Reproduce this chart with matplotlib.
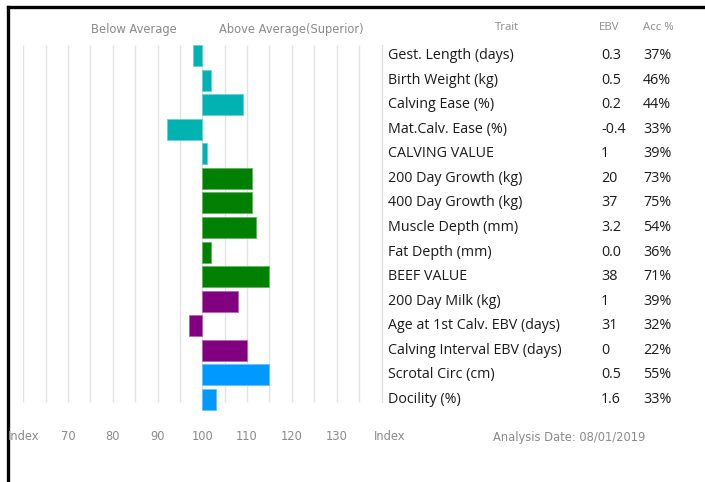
import matplotlib.pyplot as plt
from matplotlib.lines import Line2D

traits = ['Gest. Length (days)', 'Birth Weight (kg)', 'Calving Ease (%)',
          'Mat.Calv. Ease (%)', 'CALVING VALUE', '200 Day Growth (kg)',
          '400 Day Growth (kg)', 'Muscle Depth (mm)', 'Fat Depth (mm)',
          'BEEF VALUE', '200 Day Milk (kg)', 'Age at 1st Calv. EBV (days)',
          'Calving Interval EBV (days)', 'Scrotal Circ (cm)', 'Docility (%)']
ebv = ['0.3', '0.5', '0.2', '-0.4', '1', '20', '37', '3.2', '0.0', '38',
       '1', '31', '0', '0.5', '1.6']
acc = ['37%', '46%', '44%', '33%', '39%', '73%', '75%', '54%', '36%', '71%',
       '39%', '32%', '22%', '55%', '33%']
index = [98, 102, 109, 92, 101, 111, 111, 112, 102, 115, 108, 97, 110, 115, 103]
groups = ['calving'] * 5 + ['growth'] * 5 + ['maternal'] * 3 + ['other'] * 2
tick_vals = [60, 70, 80, 90, 100, 110, 120, 130, 141.8]
tick_labels = ['Index', '70', '80', '90', '100', '110', '120', '130', 'Index']

colors = {'calving': '#00b3b3', 'growth': '#008000',
          'maternal': '#800080', 'other': '#0099ff'}
edges = {'calving': '#66d1d1', 'growth': '#66b366',
         'maternal': '#b366b3', 'other': '#66c2ff'}

W, H = 705, 482
fig = plt.figure(figsize=(W / 100, H / 100), dpi=100)


def fx(px):
    return px / W


def fy(py):
    return 1 - py / H


# bar area: index 60..140 -> px 23.3..381.3, rows -0.5..14.5 -> px 43.2..411.8
ax = fig.add_axes([fx(23.3), fy(411.8), fx(381.3) - fx(23.3), fy(43.2) - fy(411.8)])
ax.set_xlim(60, 140)
ax.set_ylim(len(traits) - 0.5, -0.5)
ax.axis('off')

for g in range(60, 141, 5):
    ax.vlines(g, -0.43, 14.1, color='#e2e2e2', lw=1, zorder=0)

rows = list(range(len(traits)))
ax.barh(rows, [v - 100 for v in index], left=100, height=0.85,
        color=[colors[g] for g in groups], edgecolor=[edges[g] for g in groups],
        linewidth=0.6, zorder=2)

# table text
tfont = 'Open Sans'
for i, t in enumerate(traits):
    y = ax.transData.transform((0, i))[1] / fig.dpi / fig.get_figheight()
    fig.text(fx(388), y, t, fontsize=10.3, family=tfont, color='#1a1a1a', va='center')
    fig.text(fx(601), y, ebv[i], fontsize=10.3, family=tfont, color='#1a1a1a', va='center')
    fig.text(fx(643), y, acc[i], fontsize=10.3, family=tfont, color='#1a1a1a', va='center')

fig.text(fx(507), fy(28), 'Trait', fontsize=8.2, family=tfont, color='#8a8a8a', ha='center', va='center')
fig.text(fx(609), fy(28), 'EBV', fontsize=8.2, family=tfont, color='#8a8a8a', ha='center', va='center')
fig.text(fx(658), fy(28), 'Acc %', fontsize=8.2, family=tfont, color='#8a8a8a', ha='center', va='center')

fig.text(fx(134), fy(30), 'Below Average', fontsize=8.3, color='#8a8a8a', ha='center', va='center')
fig.text(fx(291), fy(30), 'Above Average(Superior)', fontsize=8.3, color='#8a8a8a', ha='center', va='center')

for v, lab in zip(tick_vals, tick_labels):
    x = ax.transData.transform((v, 0))[0] / fig.dpi / fig.get_figwidth()
    fig.text(x, fy(437), lab, fontsize=8.3, color='#8a8a8a', ha='center', va='center')
fig.text(fx(493), fy(437), 'Analysis Date: 08/01/2019', fontsize=8.3,
         color='#8a8a8a', ha='left', va='center')

# frame lines: top and left
fig.add_artist(Line2D([fx(8), 1], [fy(7), fy(7)], color='black', lw=2.4))
fig.add_artist(Line2D([fx(8), fx(8)], [fy(7), 0], color='black', lw=2.4))
# left edge of the table
fig.add_artist(Line2D([fx(382), fx(382)], [fy(45), fy(402)], color='#e2e2e2', lw=1))

fig.savefig('out.png', dpi=100)
